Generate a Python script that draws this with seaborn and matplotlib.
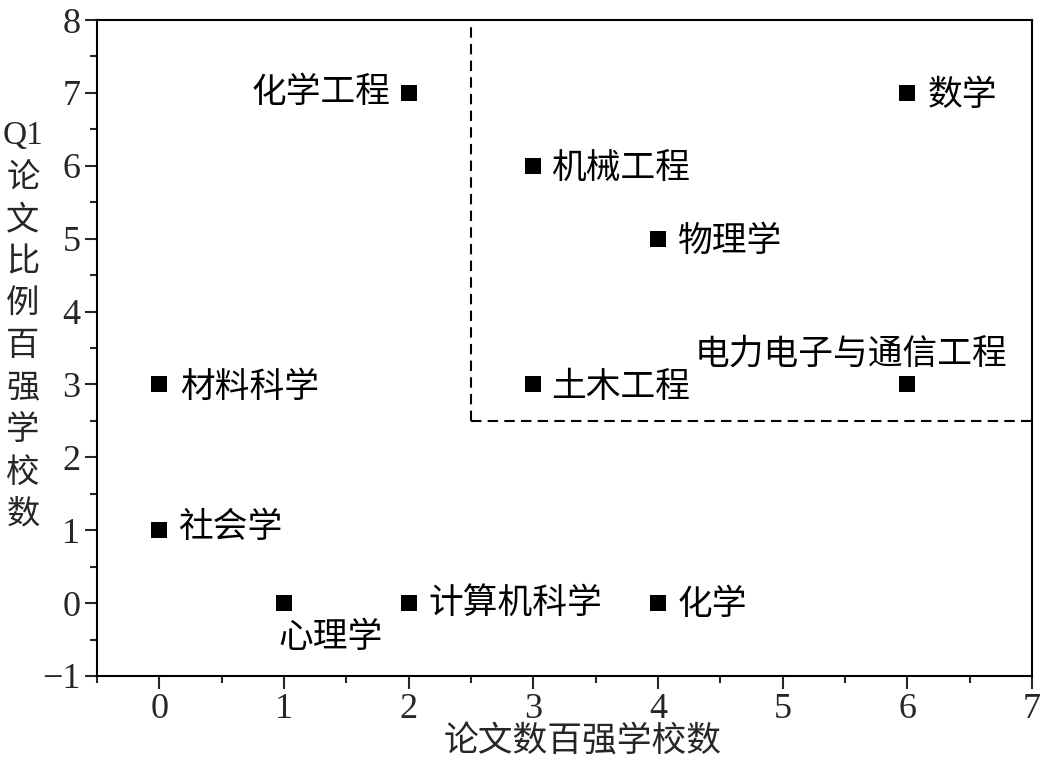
import matplotlib
matplotlib.use("Agg")
import matplotlib.pyplot as plt
import seaborn as sns
import pandas as pd
from matplotlib.ticker import MultipleLocator

# Data
subjects = ["数学", "化学工程", "机械工程", "物理学", "电力电子与通信工程", "土木工程",
            "材料科学", "社会学", "心理学", "计算机科学", "化学"]
top_schools_papers = [6, 2, 3, 4, 6, 3, 0, 0, 1, 2, 4]
top_schools_q1 = [7, 7, 6, 5, 3, 3, 3, 1, 0, 0, 0]
x_ticks = [0, 1, 2, 3, 4, 5, 6, 7]
y_ticks = [-1, 0, 1, 2, 3, 4, 5, 6, 7, 8]
x_label = "论文数百强学校数"
y_label_lines = ["Q1", "论", "文", "比", "例", "百", "强", "学", "校", "数"]
threshold = 2.5

# label placement (pixel offsets, alignment)
label_offsets = [(20, -3, "left", "center"), (-18, 0, "right", "center"),
                 (18, -3, "left", "center"), (20, -3, "left", "center"),
                 (100, 30, "right", "center"), (18, -3, "left", "center"),
                 (21, -3, "left", "center"), (19, 3, "left", "center"),
                 (-6, -34, "left", "center"), (20, 0, "left", "center"),
                 (20, -1, "left", "center")]

sns.set_style("white")
cjk = ["Noto Sans CJK SC", "DejaVu Sans"]
serif = ["Liberation Serif", "DejaVu Serif"]
plt.rcParams["font.family"] = cjk

df = pd.DataFrame({"x": top_schools_papers, "y": top_schools_q1, "name": subjects})

fig = plt.figure(figsize=(10.43, 7.61), dpi=100)
ax = fig.add_axes([0.093, 0.1117, 0.8965, 0.862])

sns.scatterplot(data=df, x="x", y="y", marker="s", s=140, color="black",
                edgecolor="black", linewidth=0, ax=ax, legend=False, zorder=3)

ax.plot([threshold, threshold], [threshold, 8], ls=(0, (5, 3)), color="black", lw=1.5)
ax.plot([threshold, 7], [threshold, threshold], ls=(0, (5, 3)), color="black", lw=1.5)

for (name, xv, yv, (dx, dy, ha, va)) in zip(subjects, top_schools_papers, top_schools_q1, label_offsets):
    ax.annotate(name, (xv, yv), xytext=(dx * 0.72, dy * 0.72), textcoords="offset points",
                ha=ha, va=va, fontsize=25, family=cjk, color="black")

ax.set_xlim(-0.5, 7)
ax.set_ylim(-1, 8)
ax.set_xticks(x_ticks)
ax.set_yticks(y_ticks)
ax.set_yticklabels(["\u22121" if t == -1 else str(t) for t in y_ticks])
ax.xaxis.set_minor_locator(MultipleLocator(0.5))
ax.yaxis.set_minor_locator(MultipleLocator(0.5))
ax.tick_params(which="major", direction="out", length=9, width=1.5, labelsize=26,
               bottom=True, left=True, top=False, right=False, pad=3)
ax.tick_params(which="minor", direction="out", length=5, width=1.5,
               bottom=True, left=True, top=False, right=False)
for lab in ax.get_xticklabels() + ax.get_yticklabels():
    lab.set_family(serif)
for sp in ax.spines.values():
    sp.set_visible(True)
    sp.set_color("black")
    sp.set_linewidth(1.5)

ax.set_xlabel("")
ax.set_ylabel("")
fig.text(0.559, 0.025, x_label, ha="center", va="center", fontsize=25, family=cjk)

# vertical stacked y label
y0_px, step_px = 136, 42.0
for i, ch in enumerate(y_label_lines):
    fam = serif if ch == "Q1" else cjk
    fig.text(23 / 1043, 1 - (y0_px + i * step_px) / 761, ch, ha="center", va="center",
             fontsize=24, family=fam)

fig.savefig("out.png", dpi=100, facecolor="white")
